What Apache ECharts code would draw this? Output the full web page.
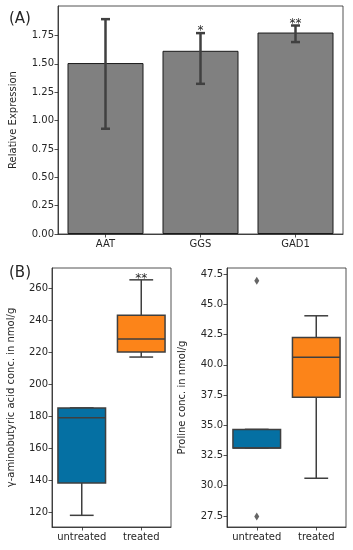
<!DOCTYPE html>
<html><head><meta charset="utf-8">
<script src="https://cdn.jsdelivr.net/npm/echarts@6/dist/echarts.min.js"></script>
<style>html,body{margin:0;padding:0;background:#fff}#c{width:353px;height:550px}</style>
</head><body><div id="c"></div>
<script>
// Panel A data
const genes = ['AAT', 'GGS', 'GAD1'];
const expr = [1.507, 1.615, 1.776];
const errLow = [0.928, 1.324, 1.692];
const errHigh = [1.894, 1.771, 1.838];
const exprStars = ['', '*', '**'];
const exprTicks = [0, 0.25, 0.5, 0.75, 1.0, 1.25, 1.5, 1.75];

// Panel B data: [min, Q1, median, Q3, max]
const groups = ['untreated', 'treated'];
const gabaBox = [[117.9, 138.1, 178.9, 185.1, 185.1], [216.9, 220.1, 228.2, 243.1, 265.2]];
const gabaStars = ['', '**'];
const gabaTicks = [120, 140, 160, 180, 200, 220, 240, 260];
const prolineBox = [[33.13, 33.13, 33.13, 34.66, 34.66], [30.62, 37.31, 40.62, 42.25, 44.05]];
const prolineOutliers = [[0, 46.95], [0, 27.45]];
const prolineTicks = [27.5, 30.0, 32.5, 35.0, 37.5, 40.0, 42.5, 45.0, 47.5];
const boxColors = ['#0570a3', '#fc8419'];

const FONT = 'DejaVu Sans';
const txt = '#262626';
const FS = 10;
const chart = echarts.init(document.getElementById('c'));

function axisY(gridIndex, min, max, ticks, name, nameGap, fmt) {
  return {
    type: 'value', gridIndex, min, max,
    name, nameLocation: 'middle', nameGap, nameRotate: 90,
    nameTextStyle: {fontFamily: FONT, fontSize: FS, color: txt},
    axisLine: {show: true, lineStyle: {color: '#262626', width: 0.8}},
    axisTick: {show: true, length: 3.5, customValues: ticks, lineStyle: {color: '#262626', width: 0.8}},
    axisLabel: {fontFamily: FONT, fontSize: FS, color: txt, margin: 4, formatter: fmt, customValues: ticks},
    splitLine: {show: false}
  };
}
function axisX(gridIndex, data) {
  return {
    type: 'category', gridIndex, data, boundaryGap: true,
    axisLine: {show: true, onZero: false, lineStyle: {color: '#262626', width: 0.8}},
    axisTick: {show: true, alignWithLabel: true, length: 3.5, lineStyle: {color: '#262626', width: 0.8}},
    axisLabel: {fontFamily: FONT, fontSize: FS, color: txt, margin: 5, interval: 0},
    splitLine: {show: false}
  };
}

function boxSeries(xi, yi, data) {
  return {
    type: 'custom', xAxisIndex: xi, yAxisIndex: yi, data: data.map((d, i) => [i].concat(d)),
    renderItem: function (params, api) {
      const i = api.value(0);
      const mn = api.coord([i, api.value(1)]);
      const q1 = api.coord([i, api.value(2)]);
      const md = api.coord([i, api.value(3)]);
      const q3 = api.coord([i, api.value(4)]);
      const mx = api.coord([i, api.value(5)]);
      const bw = api.size([1, 0])[0] * 0.8;
      const cx = mn[0];
      const ls = {stroke: '#3f3f3f', lineWidth: 1.5, fill: null};
      const ch = [];
      ch.push({type: 'line', shape: {x1: cx, y1: q1[1], x2: cx, y2: mn[1]}, style: ls});
      ch.push({type: 'line', shape: {x1: cx, y1: q3[1], x2: cx, y2: mx[1]}, style: ls});
      ch.push({type: 'line', shape: {x1: cx - bw / 4, y1: mn[1], x2: cx + bw / 4, y2: mn[1]}, style: ls});
      ch.push({type: 'line', shape: {x1: cx - bw / 4, y1: mx[1], x2: cx + bw / 4, y2: mx[1]}, style: ls});
      ch.push({type: 'rect', shape: {x: cx - bw / 2, y: q3[1], width: bw, height: q1[1] - q3[1]},
        style: {fill: boxColors[i], stroke: '#3f3f3f', lineWidth: 1.5}});
      ch.push({type: 'line', shape: {x1: cx - bw / 2, y1: md[1], x2: cx + bw / 2, y2: md[1]}, style: ls});
      return {type: 'group', children: ch};
    }
  };
}

const option = {
  animation: false,
  backgroundColor: '#fff',
  title: [
    {text: '(A)', left: 4, top: 7, textStyle: {fontFamily: FONT, fontSize: 15, fontWeight: 'normal', color: txt}},
    {text: '(B)', left: 4, top: 261, textStyle: {fontFamily: FONT, fontSize: 15, fontWeight: 'normal', color: txt}}
  ],
  grid: [
    {left: 55, top: 6, width: 288, height: 228, show: true, borderColor: '#262626', borderWidth: 0.8, backgroundColor: 'transparent'},
    {left: 52, top: 268, width: 119, height: 259, show: true, borderColor: '#262626', borderWidth: 0.8, backgroundColor: 'transparent'},
    {left: 227, top: 268, width: 119, height: 259, show: true, borderColor: '#262626', borderWidth: 0.8, backgroundColor: 'transparent'}
  ],
  xAxis: [axisX(0, genes), axisX(1, groups), axisX(2, groups)],
  yAxis: [
    axisY(0, 0, 2.01, exprTicks, 'Relative Expression', 40, v => Number(v).toFixed(2)),
    axisY(1, 110.6, 272.6, gabaTicks, 'γ-aminobutyric acid conc. in nmol/g', 36, v => String(Math.round(v))),
    axisY(2, 26.59, 48.0, prolineTicks, 'Proline conc. in nmol/g', 40, v => Number(v).toFixed(1))
  ],
  series: [
    {
      type: 'bar', xAxisIndex: 0, yAxisIndex: 0, data: expr, barWidth: '80%',
      itemStyle: {color: '#808080', borderColor: '#1a1a1a', borderWidth: 1}
    },
    {
      type: 'custom', xAxisIndex: 0, yAxisIndex: 0,
      data: genes.map((g, i) => [i, errLow[i], errHigh[i]]),
      z: 5,
      renderItem: function (params, api) {
        const i = api.value(0);
        const lo = api.coord([i, api.value(1)]);
        const hi = api.coord([i, api.value(2)]);
        const hw = 4.5;
        const st = {stroke: '#404040', lineWidth: 2.5};
        return {type: 'group', children: [
          {type: 'line', shape: {x1: lo[0], y1: lo[1], x2: hi[0], y2: hi[1]}, style: st},
          {type: 'line', shape: {x1: lo[0] - hw, y1: lo[1], x2: lo[0] + hw, y2: lo[1]}, style: st},
          {type: 'line', shape: {x1: hi[0] - hw, y1: hi[1], x2: hi[0] + hw, y2: hi[1]}, style: st},
          {type: 'text', style: {x: hi[0], y: hi[1] + 4, text: exprStars[i], textAlign: 'center', textVerticalAlign: 'bottom',
            fontFamily: FONT, fontSize: 12, fill: txt}}
        ]};
      }
    },
    boxSeries(1, 1, gabaBox),
    {
      type: 'custom', xAxisIndex: 1, yAxisIndex: 1,
      data: gabaBox.map((d, i) => [i, d[4]]),
      renderItem: function (params, api) {
        const i = api.value(0);
        const p = api.coord([i, api.value(1)]);
        return {type: 'text', style: {x: p[0], y: p[1] + 5, text: gabaStars[i], textAlign: 'center', textVerticalAlign: 'bottom',
          fontFamily: FONT, fontSize: 12, fill: txt}};
      }
    },
    boxSeries(2, 2, prolineBox),
    {
      type: 'scatter', xAxisIndex: 2, yAxisIndex: 2, data: prolineOutliers,
      symbol: 'diamond', symbolSize: [5, 8],
      itemStyle: {color: '#3f3f3f'}
    }
  ]
};
chart.setOption(option);
</script>
</body></html>
